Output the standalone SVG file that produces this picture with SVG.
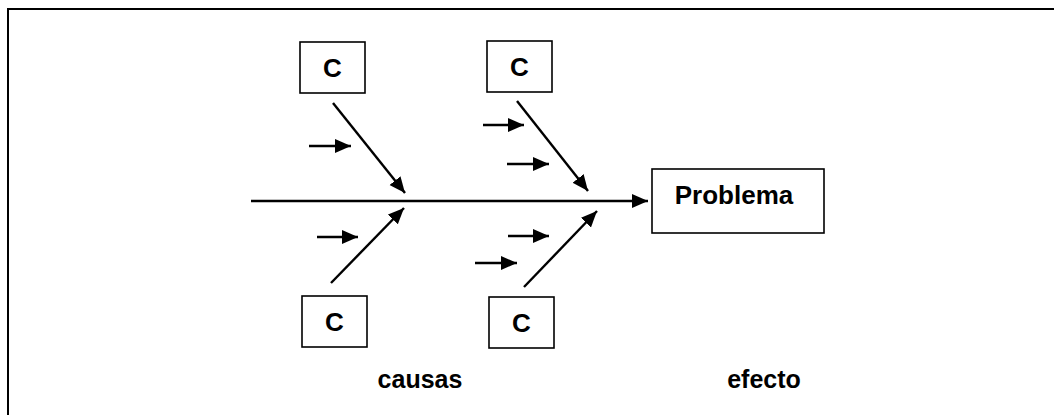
<svg xmlns="http://www.w3.org/2000/svg" width="1054" height="415" viewBox="0 0 1054 415">
  <style>
    .box { fill: #fff; stroke: #000; stroke-width: 1.6; }
    .lbl { font-family: "Liberation Sans", Arial, sans-serif; font-weight: bold; fill: #000; text-anchor: middle; }
    .c { font-size: 26px; }
    .big { font-size: 26px; }
    .cap { font-size: 25px; }
    .ln { stroke: #000; stroke-width: 2.4; fill: none; marker-end: url(#head); }
  </style>
  <defs>
    <marker id="head" markerUnits="userSpaceOnUse" markerWidth="17" markerHeight="15" refX="16" refY="7" orient="auto">
      <path d="M0,0 L16,7 L0,14 Z" fill="#000"/>
    </marker>
  </defs>

  <rect width="1054" height="415" fill="#fff"/>
  <!-- page frame (top and left edges) -->
  <path d="M8,415 L8,9 L1054,9" fill="none" stroke="#000" stroke-width="2"/>

  <g id="connectors">
    <!-- spine -->
    <line class="ln" x1="251" y1="201" x2="648" y2="201"/>
    <!-- bones -->
    <line class="ln" x1="333" y1="103" x2="405" y2="193"/>
    <line class="ln" x1="517" y1="101" x2="588" y2="191"/>
    <line class="ln" x1="331" y1="283" x2="404" y2="208"/>
    <line class="ln" x1="524" y1="287" x2="597" y2="211"/>
    <!-- sub-causes -->
    <line class="ln" x1="309" y1="146" x2="351" y2="146"/>
    <line class="ln" x1="483" y1="125" x2="524" y2="125"/>
    <line class="ln" x1="507" y1="164" x2="549" y2="164"/>
    <line class="ln" x1="317" y1="237" x2="358" y2="237"/>
    <line class="ln" x1="508" y1="236" x2="549" y2="236"/>
    <line class="ln" x1="475" y1="263" x2="517" y2="263"/>
  </g>

  <g id="cause-top-left">
    <rect class="box" x="300" y="42" width="65" height="51"/>
    <text class="lbl c" x="332.5" y="77">C</text>
  </g>
  <g id="cause-top-right">
    <rect class="box" x="487" y="41" width="65" height="51"/>
    <text class="lbl c" x="519.5" y="76">C</text>
  </g>
  <g id="cause-bottom-left">
    <rect class="box" x="302" y="296" width="65" height="51"/>
    <text class="lbl c" x="334.5" y="331">C</text>
  </g>
  <g id="cause-bottom-right">
    <rect class="box" x="489" y="297" width="65" height="51"/>
    <text class="lbl c" x="521.5" y="332">C</text>
  </g>

  <g id="problem">
    <rect class="box" x="652" y="169" width="172" height="64"/>
    <text class="lbl big" x="734" y="204">Problema</text>
  </g>

  <g id="captions">
    <text class="lbl cap" x="420" y="388">causas</text>
    <text class="lbl cap" x="764" y="388">efecto</text>
  </g>
</svg>
